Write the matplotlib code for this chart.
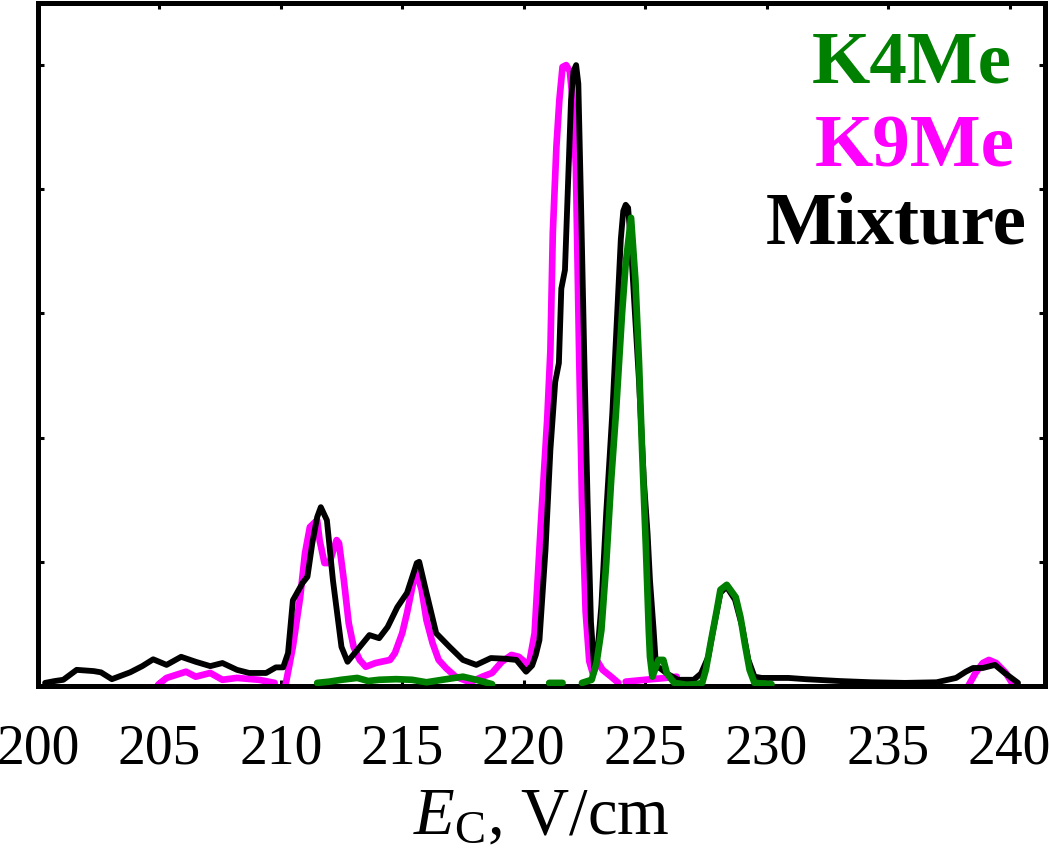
import matplotlib
matplotlib.use("Agg")
import matplotlib.pyplot as plt
import numpy as np

plt.rcParams['font.family'] = ['Liberation Serif', 'DejaVu Serif']
plt.rcParams['mathtext.fontset'] = 'custom'
plt.rcParams['mathtext.rm'] = 'Liberation Serif'
plt.rcParams['mathtext.it'] = 'Liberation Serif:italic'

nan = np.nan

# Mixture (black)
mix_x = [200.3, 200.7, 201.05, 201.6, 202.3, 202.6, 203.05, 203.8, 204.3, 204.75,
         205.3, 205.9, 206.5, 207.1, 207.6, 208.2, 208.7, 209.4, 209.8, 210.1,
         210.3, 210.5, 210.9, 211.1, 211.3, 211.5, 211.65, 211.9, 212.15, 212.5,
         212.75, 213.15, 213.65, 214.05, 214.4, 214.8, 215.2, 215.6, 215.7, 216.0,
         216.4, 216.95, 217.5, 218.05, 218.65, 219.2, 219.7, 220.1, 220.35, 220.5,
         220.65, 220.9, 221.1, 221.3, 221.45, 221.55, 221.7, 221.8, 221.95, 222.05,
         222.16, 222.25, 222.36, 222.49, 222.63, 222.77, 222.9, 223.05, 223.2, 223.4,
         223.65, 223.85, 224.0, 224.1, 224.2, 224.3, 224.4, 224.55, 224.75, 224.95,
         225.1, 225.2, 225.35, 225.45, 225.6, 225.9, 226.35, 227.0, 227.3, 227.6,
         227.8, 228.1, 228.35, 228.7, 229.0, 229.25, 229.5, 229.8, 230.9, 231.6,
         233.0, 234.3, 235.7, 237.0, 237.8, 238.2, 238.5, 238.9, 239.4, 239.8, 240.35]
mix_y = [0.005, 0.008, 0.01, 0.026, 0.024, 0.022, 0.011, 0.022, 0.032, 0.043,
         0.034, 0.047, 0.039, 0.032, 0.037, 0.026, 0.021, 0.021, 0.03, 0.03,
         0.053, 0.138, 0.166, 0.176, 0.23, 0.272, 0.288, 0.267, 0.17, 0.063,
         0.039, 0.058, 0.082, 0.077, 0.095, 0.127, 0.15, 0.198, 0.2, 0.15,
         0.085, 0.063, 0.042, 0.034, 0.045, 0.044, 0.042, 0.023, 0.033, 0.05,
         0.074, 0.22, 0.38, 0.49, 0.52, 0.64, 0.67, 0.78, 0.944, 0.99,
         1.0, 0.97, 0.78, 0.54, 0.30, 0.103, 0.03, 0.06, 0.13, 0.28,
         0.44, 0.6, 0.72, 0.765, 0.775, 0.77, 0.72, 0.62, 0.49, 0.33,
         0.246, 0.17, 0.09, 0.03, 0.029, 0.02, 0.01, 0.01, 0.02, 0.047,
         0.09, 0.15, 0.16, 0.139, 0.095, 0.042, 0.015, 0.013, 0.013, 0.011,
         0.008, 0.006, 0.005, 0.006, 0.013, 0.023, 0.029, 0.029, 0.034, 0.021, 0.005]

# K9Me (magenta)
k9_x = [204.95, 205.3, 205.7, 206.1, 206.5, 207.1, 207.6, 208.2, 209.1, 209.75,
        nan, 210.2, 210.5, 210.8, 211.0, 211.2, 211.5, 211.6, 211.8, 212.0,
        212.3, 212.4, 212.6, 212.8, 213.0, 213.25, 213.5, 213.9, 214.5, 214.7,
        215.0, 215.2, 215.45, 215.6, 215.8, 216.0, 216.25, 216.5, 216.8, 217.2,
        217.8, 218.3, 218.7, 219.1, 219.5, 219.8, 220.1, 220.2, 220.45, 220.72,
        220.97, 221.1, 221.2, 221.35, 221.47, 221.6, 221.75, 221.9, 222.0, 222.15,
        222.28, 222.4, 222.55, 222.7, 222.85, 223.05, 223.25, 223.6, 223.9,
        nan, 224.2, 225.0, 225.85, 226.3,
        nan, 238.3, 238.6, 238.9, 239.15, 239.45, 239.85, 240.1]
k9_y = [0.002, 0.013, 0.018, 0.023, 0.015, 0.021, 0.01, 0.013, 0.01, 0.005,
        nan, 0.002, 0.063, 0.143, 0.214, 0.256, 0.267, 0.235, 0.198, 0.198,
        0.235, 0.23, 0.17, 0.101, 0.063, 0.042, 0.031, 0.037, 0.042, 0.053,
        0.085, 0.118, 0.166, 0.182, 0.155, 0.106, 0.069, 0.042, 0.029, 0.015,
        0.006, 0.015, 0.021, 0.039, 0.05, 0.047, 0.037, 0.031, 0.085, 0.27,
        0.43, 0.54, 0.73, 0.87, 0.944, 0.997, 1.0, 0.99, 0.95, 0.836,
        0.54, 0.3, 0.12, 0.04, 0.02, 0.039, 0.026, 0.015, 0.005,
        nan, 0.007, 0.01, 0.013, 0.015,
        nan, 0.0, 0.021, 0.037, 0.042, 0.037, 0.021, 0.005]

# K4Me (green)
k4_x = [211.5, 212.0, 212.5, 213.15, 213.6, 214.05, 214.75, 215.4, 216.0, 216.65,
        217.5, 218.05, 218.7, nan, 221.05, 221.6, nan, 222.4, 222.8, 223.0,
        223.2, 223.4, 223.6, 223.8, 224.05, 224.2, 224.42, 224.6, 224.75, 224.87,
        225.03, 225.15, 225.2, 225.3, 225.55, 225.75, 225.9, 226.2, 226.7, 227.1,
        227.35, 227.5, 227.7, 227.95, 228.1, 228.36, 228.73, 228.93, 229.1, 229.3,
        229.5, 230.2]
k4_y = [0.005, 0.007, 0.01, 0.013, 0.008, 0.01, 0.011, 0.01, 0.006, 0.01,
        0.015, 0.01, 0.003, nan, 0.005, 0.005, nan, 0.005, 0.01, 0.037,
        0.09, 0.198, 0.33, 0.44, 0.6, 0.68, 0.754, 0.654, 0.52, 0.385,
        0.224, 0.09, 0.047, 0.015, 0.042, 0.042, 0.02, 0.005, 0.002, 0.003,
        0.005, 0.026, 0.07, 0.122, 0.155, 0.163, 0.143, 0.11, 0.069, 0.026,
        0.005, 0.003]

fig = plt.figure(figsize=(10.5, 8.59), dpi=100)
ax = fig.add_axes([0.036, 0.2014, 0.959, 0.7951])

style = dict(solid_capstyle='round', solid_joinstyle='round')
ax.plot(k9_x, k9_y, color='#ff00ff', lw=4.8, zorder=2, **style)
ax.plot(mix_x, mix_y, color='black', lw=4.2, zorder=3, **style)
ax.plot(k4_x, k4_y, color='#008000', lw=4.8, zorder=4, **style)

ax.set_xlim(200, 241.45)
ax.set_ylim(0, 1.1)
ax.set_xticks(np.arange(200, 241, 5))
ax.set_yticks(np.arange(0, 1.01, 0.2))
ax.set_yticklabels([])
ax.tick_params(direction='in', length=4.5, width=2.2, top=True, right=True,
               labelsize=40, pad=27)
for s in ax.spines.values():
    s.set_linewidth(3.6)

ax.set_xlabel(r'$E_\mathrm{C}$, V/cm', fontsize=48, labelpad=8)

fig.text(0.9638, 0.9045, 'K4Me', color='#008000', fontsize=54, fontweight='bold',
         ha='right', va='baseline')
fig.text(0.9667, 0.8056, 'K9Me', color='#ff00ff', fontsize=54, fontweight='bold',
         ha='right', va='baseline')
fig.text(0.978, 0.7171, 'Mixture', color='black', fontsize=54, fontweight='bold',
         ha='right', va='baseline')

fig.savefig('out.png', dpi=100)
